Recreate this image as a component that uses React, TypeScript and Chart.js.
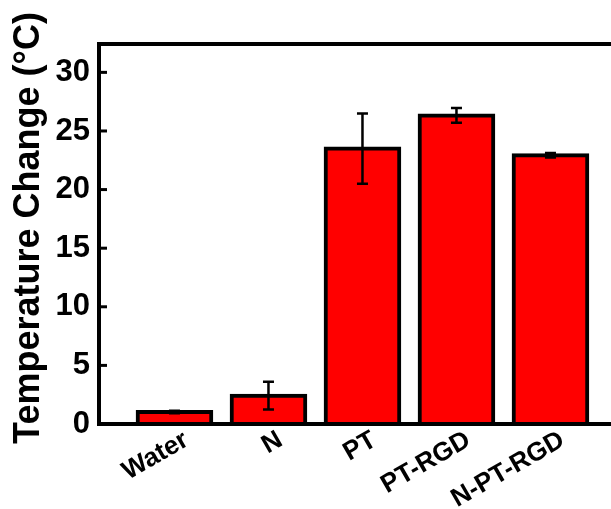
import { useEffect, useRef } from 'react';
import { Chart, registerables } from 'chart.js';

Chart.register(...registerables);

const categories = ['Water', 'N', 'PT', 'PT-RGD', 'N-PT-RGD'];
const positions = [1, 2, 3, 4, 5];
const values = [1.02, 2.42, 23.5, 26.33, 22.93];
const errors = [0.1, 1.18, 3.0, 0.63, 0.2];
const yTicks = [0, 5, 10, 15, 20, 25, 30];
const yTitle = 'Temperature Change (°C)';

const FONT = "'Liberation Sans', Arial, sans-serif";

const framePlugin = {
  id: 'frame',
  afterDatasetsDraw(chart: any) {
    const { ctx, chartArea, scales } = chart;
    const { left, top, right, bottom } = chartArea;
    const x = scales.x;
    const y = scales.y;
    ctx.save();
    // error bars
    ctx.strokeStyle = '#000';
    ctx.lineWidth = 2.5;
    ctx.lineCap = 'butt';
    values.forEach((v, i) => {
      const px = x.getPixelForValue(positions[i]);
      const yTop = y.getPixelForValue(v + errors[i]);
      const yBot = y.getPixelForValue(v - errors[i]);
      ctx.beginPath();
      ctx.moveTo(px, yTop);
      ctx.lineTo(px, yBot);
      ctx.moveTo(px - 5.5, yTop);
      ctx.lineTo(px + 5.5, yTop);
      ctx.moveTo(px - 5.5, yBot);
      ctx.lineTo(px + 5.5, yBot);
      ctx.stroke();
    });
    // axes frame (left, top, bottom)
    ctx.lineWidth = 4;
    ctx.lineJoin = 'miter';
    ctx.beginPath();
    ctx.moveTo(right + 4, top);
    ctx.lineTo(left, top);
    ctx.lineTo(left, bottom);
    ctx.lineTo(right + 4, bottom);
    ctx.stroke();
    // inner ticks on y axis
    ctx.lineWidth = 3;
    yTicks.forEach((t) => {
      const py = y.getPixelForValue(t);
      ctx.beginPath();
      ctx.moveTo(left, py);
      ctx.lineTo(left + 8, py);
      ctx.stroke();
    });
    // y title
    ctx.font = `bold 36px ${FONT}`;
    ctx.fillStyle = '#000';
    ctx.textAlign = 'center';
    ctx.textBaseline = 'middle';
    ctx.translate(29, (top + bottom) / 2 - 6);
    ctx.rotate(-Math.PI / 2);
    ctx.fillText(yTitle, 0, 0);
    ctx.restore();
  },
};

export default function App() {
  const ref = useRef<HTMLCanvasElement | null>(null);
  useEffect(() => {
    document.body.style.margin = '0';
    if (!ref.current) return;
    const chart = new Chart(ref.current, {
      type: 'bar',
      data: {
        datasets: [
          {
            data: positions.map((p, i) => ({ x: p, y: values[i] })),
            backgroundColor: '#ff0000',
            borderColor: '#000000',
            borderWidth: 4,
            borderSkipped: false,
            inflateAmount: 2,
            barPercentage: 0.783,
            categoryPercentage: 1,
          } as any,
        ],
      },
      options: {
        animation: false,
        responsive: false,
        devicePixelRatio: 1,
        layout: { padding: { top: 44, left: 0, right: 0, bottom: 0 } },
        plugins: { legend: { display: false }, tooltip: { enabled: false } },
        scales: {
          x: {
            type: 'linear',
            offset: false,
            min: 0.197,
            max: 5.644,
            grid: { display: false, drawTicks: false, offset: false },
            border: { display: false },
            afterBuildTicks: (s: any) => {
              s.ticks = positions.map((v) => ({ value: v }));
            },
            afterFit: (s: any) => {
              s.height = 85;
              s.paddingLeft = 0;
              s.paddingRight = 0;
            },
            ticks: {
              autoSkip: false,
              maxRotation: 30,
              minRotation: 30,
              padding: 3,
              labelOffset: 12,
              color: '#000',
              font: { family: FONT, size: 26, weight: 'bold', lineHeight: 1 },
              callback: (v: any) => {
                const i = positions.indexOf(Number(v));
                return i >= 0 ? categories[i] : '';
              },
            },
          },
          y: {
            min: 0,
            max: 32.42,
            grid: { display: false, drawTicks: false },
            border: { display: false },
            afterBuildTicks: (s: any) => {
              s.ticks = yTicks.map((v) => ({ value: v }));
            },
            afterFit: (s: any) => {
              s.width = 99;
            },
            ticks: {
              padding: 9,
              color: '#000',
              font: { family: FONT, size: 31, weight: 'bold' },
            },
          },
        },
      } as any,
      plugins: [framePlugin],
    });
    return () => chart.destroy();
  }, []);
  return <canvas ref={ref} width={611} height={509} style={{ display: 'block', width: 611, height: 509 }} />;
}
